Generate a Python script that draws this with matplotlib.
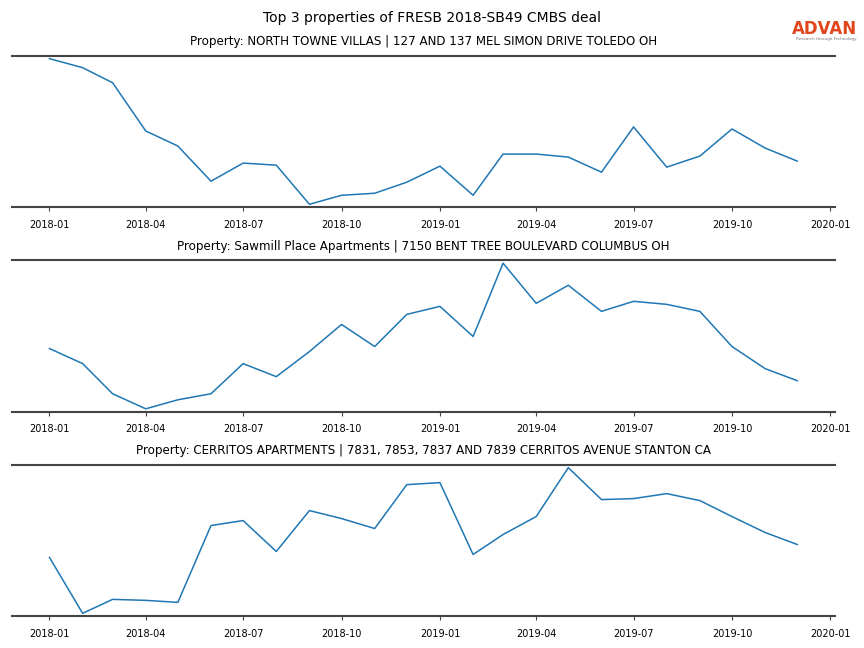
import matplotlib
matplotlib.use('Agg')
import matplotlib.pyplot as plt
import matplotlib.dates as mdates
import pandas as pd

months = pd.date_range('2018-01-01', '2019-12-01', freq='MS')

titles = [
    'Property: NORTH TOWNE VILLAS | 127 AND 137 MEL SIMON DRIVE TOLEDO OH',
    'Property: Sawmill Place Apartments | 7150 BENT TREE BOULEVARD COLUMBUS OH',
    'Property: CERRITOS APARTMENTS | 7831, 7853, 7837 AND 7839 CERRITOS AVENUE STANTON CA',
]

north_towne = [147, 138, 123, 75, 60, 25, 43, 41, 2, 11, 13, 24, 40, 11, 52,
               52, 49, 34, 79, 39, 50, 77, 58, 45]
sawmill = [62, 47, 17, 2, 11, 17, 47, 34, 59, 86, 64, 96, 104, 74, 147, 107,
           125, 99, 109, 106, 99, 64, 42, 30]
cerritos = [59, 3, 17, 16, 14, 91, 96, 65, 106, 98, 88, 132, 134, 62, 82, 100,
            149, 117, 118, 123, 116, 100, 84, 72]

series = [north_towne, sawmill, cerritos]

fig, axes = plt.subplots(3, 1, figsize=(8.64, 6.48), dpi=100)
fig.subplots_adjust(left=0.014, right=0.966, top=0.914, bottom=0.049, hspace=0.35)

for ax, values, title in zip(axes, series, titles):
    ax.plot(months, values, color='#1f77b4', linewidth=1.1)
    ax.set_title(title, fontsize=8.6, pad=7.5)
    ax.margins(y=0.02)
    ax.set_yticks([])
    ax.spines['left'].set_visible(False)
    ax.spines['right'].set_visible(False)
    for s in ('top', 'bottom'):
        ax.spines[s].set_linewidth(1.5)
        ax.spines[s].set_color('#444444')
    ax.set_xticks(pd.date_range('2018-01-01', '2020-01-01', freq='3MS'))
    ax.xaxis.set_major_formatter(mdates.DateFormatter('%Y-%m'))
    ax.tick_params(axis='x', labelsize=7, length=3, width=0.8, color='#444444', pad=6)

fig.suptitle('Top 3 properties of FRESB 2018-SB49 CMBS deal', fontsize=10, y=0.983)

# logo
fig.text(0.992, 0.948, 'ADVAN', color='#E0471D', fontsize=12, fontweight='bold',
         ha='right', va='baseline')
fig.text(0.991, 0.938, 'Research through Technology', color='#777777', fontsize=3,
         ha='right', va='baseline')

plt.savefig('out.png')
plt.close()
